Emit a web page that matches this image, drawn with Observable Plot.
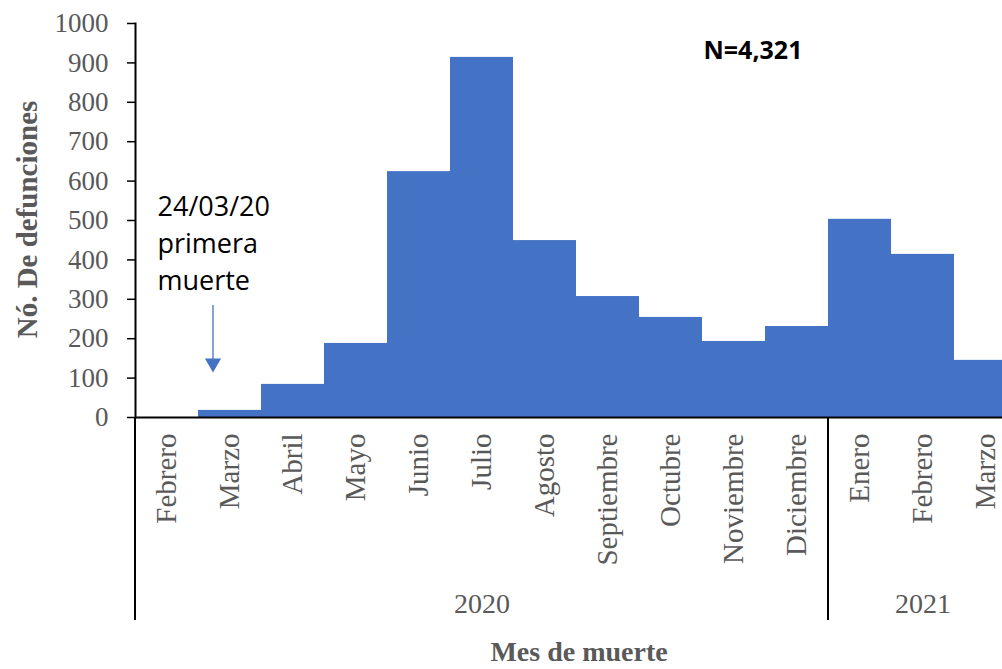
<!DOCTYPE html>
<html><head><meta charset="utf-8">
<script src="https://cdn.jsdelivr.net/npm/d3@7"></script>
<script src="https://cdn.jsdelivr.net/npm/@observablehq/plot@0.6"></script>
<style>
html,body{margin:0;padding:0;background:#fff;overflow:hidden;}
#chart{width:1002px;height:669px;overflow:hidden;}
#chart svg{overflow:hidden;}
</style></head><body><div id="chart"></div>
<script>
// ---- data ----
const months = ["Febrero","Marzo","Abril","Mayo","Junio","Julio","Agosto","Septiembre","Octubre","Noviembre","Diciembre","Enero","Febrero","Marzo"];
const monthYears = [2020,2020,2020,2020,2020,2020,2020,2020,2020,2020,2020,2021,2021,2021];
const deaths = [0,18,84,188,624,914,449,307,254,193,231,503,414,145];
const yTicks = [0,100,200,300,400,500,600,700,800,900,1000];
const years = [{label:"2020", first:0, last:10},{label:"2021", first:11, last:13}];
const totalLabel = "N=4,321";
const noteLines = ["24/03/20","primera","muerte"];
const arrowMonth = 1;            // Marzo 2020
const arrowYs = {start: 284, end: 145, head: 138};
const yLabel = "Nó. De defunciones";
const xLabel = "Mes de muerte";

// ---- build ----
const keys = months.map((m, i) => `${m} ${monthYears[i]}`);
const data = months.map((m, i) => ({key: keys[i], month: m, deaths: deaths[i]}));
const yearRows = years.map(y => ({label: y.label, first: keys[y.first], mid: keys[Math.floor((y.first + y.last) / 2)]}));

const serif = "'Liberation Serif', 'Times New Roman', serif";
const sans = "'Open Sans', 'Liberation Sans', sans-serif";
const grey = "#595959";
const blue = "#4472C4";

function separators(index, scales) {
  const g = d3.create("svg:g");
  const y0 = scales.y(0);
  for (const r of yearRows) {
    const x = scales.x(r.first);
    g.append("line").attr("x1", x).attr("x2", x).attr("y1", y0).attr("y2", 620)
      .attr("stroke", "black").attr("stroke-width", 2);
  }
  return g.node();
}

const bw = 63;
const plot = Plot.plot({
  width: 1002,
  height: 669,
  marginLeft: 135,
  marginRight: 0,
  marginTop: 23,
  marginBottom: 252,
  style: {fontFamily: serif, background: "white"},
  x: {type: "band", domain: keys, range: [135, 135 + bw * keys.length], padding: 0, axis: null},
  y: {domain: [0, 1000], axis: null},
  marks: [
    Plot.barY(data, {x: "key", y: "deaths", fill: blue}),
    Plot.axisY(yTicks, {anchor: "left", tickSize: 8, tickPadding: 19, tickFormat: d => String(d), fontSize: 27, fontFamily: serif, fill: grey, stroke: "black", strokeWidth: 1.5}),
    Plot.frame({anchor: "left", stroke: "black", strokeWidth: 2}),
    Plot.ruleY([0], {stroke: "black", strokeWidth: 2}),
    separators,
    Plot.text(data, {x: "key", y: 0, text: "month", rotate: -90, textAnchor: "end", lineAnchor: "middle", dy: 16, fontSize: 29, fontFamily: serif, fill: grey}),
    Plot.text(yearRows, {x: "mid", y: 0, text: "label", lineAnchor: "middle", dy: 187, fontSize: 28, fontFamily: serif, fill: grey}),
    Plot.text([xLabel], {frameAnchor: "bottom", text: d => d, textAnchor: "middle", lineAnchor: "middle", dy: 235, dx: 10, fontSize: 28, fontWeight: "bold", fontFamily: serif, fill: grey}),
    Plot.text([yLabel], {frameAnchor: "left", text: d => d, rotate: -90, textAnchor: "middle", lineAnchor: "middle", dx: -108, dy: -1, fontSize: 29, fontWeight: "bold", fontFamily: serif, fill: grey}),
    Plot.text([totalLabel], {frameAnchor: "top-left", text: d => d, textAnchor: "start", lineAnchor: "middle", dx: 568, dy: 27, fontSize: 25, fontWeight: "bold", fontFamily: sans, fill: "black"}),
    Plot.text([noteLines.join("\n")], {frameAnchor: "top-left", text: d => d, textAnchor: "start", lineAnchor: "top", lineHeight: 1.37, dx: 22, dy: 166, fontSize: 27, fontFamily: sans, fill: "black"}),
    Plot.ruleX([{x: keys[arrowMonth], y1: arrowYs.start, y2: arrowYs.end}], {x: "x", y1: "y1", y2: "y2", dx: -17, stroke: blue, strokeWidth: 1.3}),
    Plot.dot([{x: keys[arrowMonth], y: arrowYs.head}], {x: "x", y: "y", dx: -17, symbol: "triangle", rotate: 180, r: 6, fill: blue, stroke: "none"})
  ]
});
document.getElementById("chart").appendChild(plot);
</script></body></html>
